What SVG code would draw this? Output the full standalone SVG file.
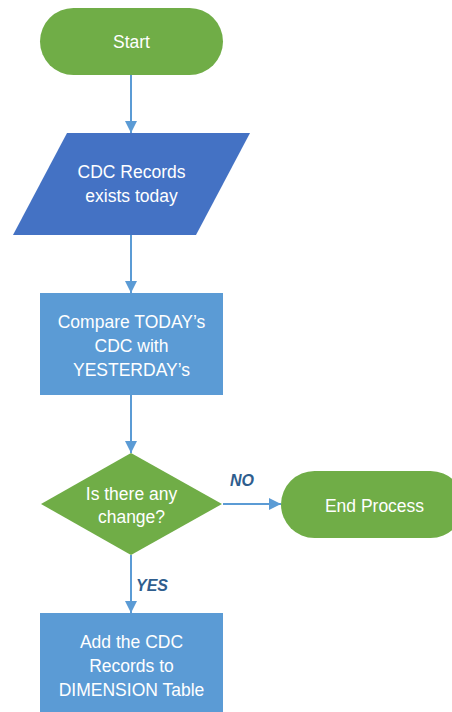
<svg xmlns="http://www.w3.org/2000/svg" width="452" height="712" viewBox="0 0 452 712">
<defs>
<style>
.t{font-family:"Liberation Sans",Arial,sans-serif;font-size:17.5px;fill:#ffffff;text-anchor:middle}
.lbl{font-family:"Liberation Sans",Arial,sans-serif;font-size:16px;font-weight:bold;font-style:italic;fill:#2F5E8E}
.green{fill:#70AD47}
.dblue{fill:#4472C4}
.lblue{fill:#5B9BD5}
.conn{stroke:#5B9BD5;stroke-width:2;fill:none;marker-end:url(#ah)}
</style>
<marker id="ah" markerWidth="12" markerHeight="12" refX="12" refY="6" orient="auto" markerUnits="userSpaceOnUse">
<path d="M0,0 L12,6 L0,12 Z" fill="#5B9BD5"/>
</marker>
</defs>
<rect width="452" height="712" fill="#ffffff"/>
<g id="connectors">
<line class="conn" x1="131" y1="75" x2="131" y2="133"/>
<line class="conn" x1="131" y1="235" x2="131" y2="293"/>
<line class="conn" x1="131" y1="395" x2="131" y2="453"/>
<line class="conn" x1="223" y1="504" x2="281" y2="504"/>
<line class="conn" x1="131" y1="555" x2="131" y2="613"/>
<text class="lbl" x="230" y="486">NO</text>
<text class="lbl" x="136" y="591">YES</text>
</g>
<g id="start">
<rect class="green" x="40" y="8" width="183" height="67" rx="33.5" ry="33.5"/>
<text class="t" x="131.5" y="48">Start</text>
</g>
<g id="cdc-records">
<polygon class="dblue" points="67,133 250,133 196,235 13,235"/>
<text class="t" x="131.5" y="178">CDC Records</text>
<text class="t" x="131.5" y="202">exists today</text>
</g>
<g id="compare">
<rect class="lblue" x="40" y="293" width="183" height="102"/>
<text class="t" x="131.5" y="328">Compare TODAY’s</text>
<text class="t" x="131.5" y="352">CDC with</text>
<text class="t" x="131.5" y="376">YESTERDAY’s</text>
</g>
<g id="decision">
<polygon class="green" points="131,453 222,504 131,555 41,504"/>
<text class="t" x="131.5" y="500">Is there any</text>
<text class="t" x="131.5" y="523">change?</text>
</g>
<g id="end">
<rect class="green" x="281" y="471" width="183" height="67" rx="33.5" ry="33.5"/>
<text class="t" x="374.5" y="512">End Process</text>
</g>
<g id="add">
<rect class="lblue" x="40" y="613" width="183" height="110"/>
<text class="t" x="131.5" y="648">Add the CDC</text>
<text class="t" x="131.5" y="672">Records to</text>
<text class="t" x="131.5" y="696">DIMENSION Table</text>
</g>
</svg>
